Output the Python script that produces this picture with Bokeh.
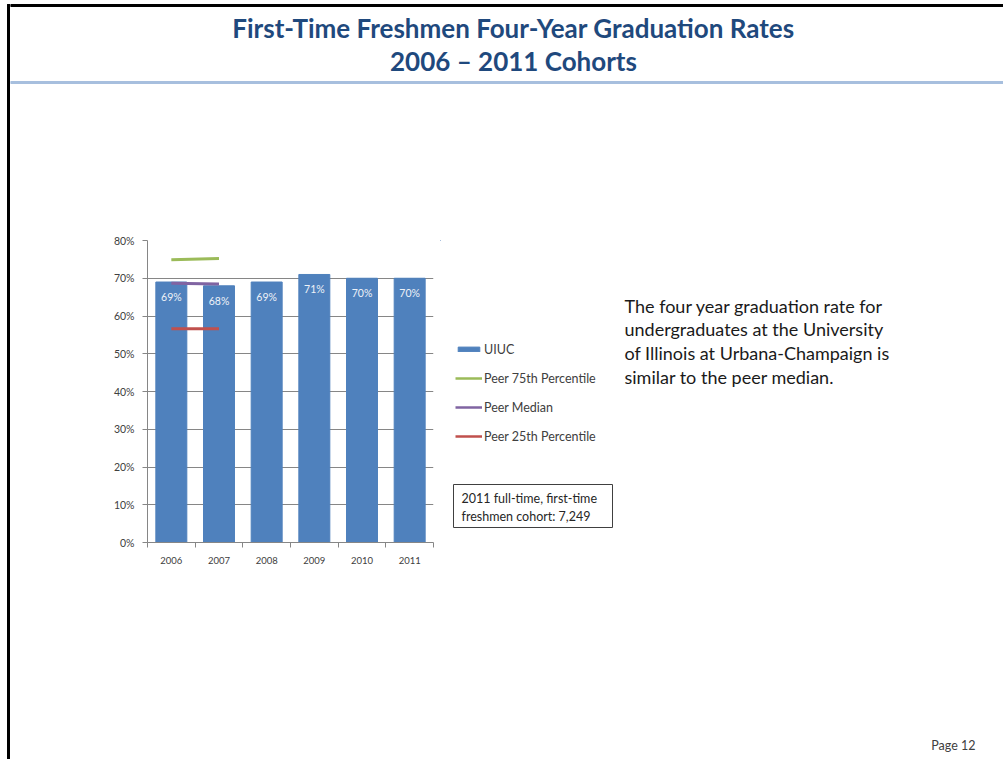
from bokeh.plotting import figure
from bokeh.layouts import row, column
from bokeh.models import (FactorRange, Range1d, LinearAxis, FixedTicker,
                          NumeralTickFormatter, Legend, LegendItem, Label,
                          ColumnDataSource)
from bokeh.core.properties import value
from bokeh.embed import file_html
from bokeh.resources import INLINE

# ---- data ----
years = ["2006", "2007", "2008", "2009", "2010", "2011"]
uiuc = [0.69, 0.68, 0.69, 0.71, 0.70, 0.70]
uiuc_labels = ["69%", "68%", "69%", "71%", "70%", "70%"]
peer_years = ["2006", "2007"]
peer_75 = [0.749, 0.752]
peer_median = [0.687, 0.685]
peer_25 = [0.566, 0.566]
y_ticks = [0, 0.1, 0.2, 0.3, 0.4, 0.5, 0.6, 0.7, 0.8]

title1 = "First-Time Freshmen Four-Year Graduation Rates"
title2 = "2006 \u2013 2011 Cohorts"
side_lines = ["The four year graduation rate for",
              "undergraduates at the University",
              "of Illinois at Urbana-Champaign is",
              "similar to the peer median."]
note_lines = ["2011 full-time, first-time", "freshmen cohort: 7,249"]
page_label = "Page 12"
legend_labels = ["UIUC", "Peer 75th Percentile", "Peer Median", "Peer 25th Percentile"]

FONT = "Lato"
BLUE = "#4f81bd"
GREEN = "#9bbb59"
PURPLE = "#8064a2"
RED = "#c0504d"
GRAY = "#868686"
TXT = "#404040"

W, H = 1003, 759
SW = 10            # left strip width
TOP_H = 200        # title band height
MID_H = 400        # chart band height
BOT_H = H - TOP_H - MID_H
CW = 440 - SW      # chart figure width
FL, FR, FT, FB = 147, 433, 240, 542   # chart frame edges in page pixels


def blank(width, height, x0, y0, top_border=0, bottom_border=0):
    """Figure whose frame maps data coords to page pixel coords."""
    f = figure(width=width, height=height, x_range=Range1d(x0, x0 + width),
               y_range=Range1d(y0 + height - bottom_border, y0 + top_border),
               output_backend="svg", toolbar_location=None, x_axis_location=None,
               y_axis_location=None, min_border=0, min_border_top=top_border,
               min_border_bottom=bottom_border)
    f.outline_line_color = None
    f.grid.visible = False
    f.background_fill_color = "white"
    f.border_fill_color = "white"
    return f


# ---- left strip (slide border) ----
strip = blank(SW, H, 0, 0)
strip.quad(left=7, right=9, top=4, bottom=H, color="black")
strip.quad(left=7, right=SW, top=4, bottom=6, color="black")

# ---- title band ----
top = blank(W - SW, TOP_H, SW, 0)
top.quad(left=SW, right=W, top=4, bottom=6, color="black")
top.quad(left=SW, right=W, top=81, bottom=83, color="#a7bfde")
for txt, yy in [(title1, 27), (title2, 60)]:
    top.add_layout(Label(x=513, y=yy, text=txt, text_align="center", text_baseline="middle",
                         text_font=FONT, text_font_style="bold", text_font_size="26px",
                         text_color="#1f497d"))

# ---- chart ----
c = figure(width=CW, height=MID_H, x_range=FactorRange(*years), y_range=Range1d(0, 0.8),
           output_backend="svg", toolbar_location=None, x_axis_location=None,
           min_border_left=FL - SW, min_border_right=SW + CW - FR,
           min_border_top=FT - TOP_H, min_border_bottom=TOP_H + MID_H - FB)
c.outline_line_color = None
c.background_fill_color = "white"
c.border_fill_color = "white"

ya = c.yaxis[0]
ya.ticker = FixedTicker(ticks=y_ticks)
ya.formatter = NumeralTickFormatter(format="0%")
ya.axis_line_color = GRAY
ya.major_tick_line_color = GRAY
ya.major_tick_out = 5
ya.major_tick_in = 0
ya.minor_tick_line_color = None
ya.major_label_standoff = 8
ya.major_label_text_font = FONT
ya.major_label_text_font_size = "10.5px"
ya.major_label_text_color = TXT
c.ygrid.ticker = FixedTicker(ticks=y_ticks)
c.ygrid.grid_line_color = GRAY
c.xgrid.grid_line_color = None

# x axis in synthetic category coordinates: labels at centres, tick marks at boundaries
n = len(years)
xa = LinearAxis(ticker=FixedTicker(ticks=[i + 0.5 for i in range(n)],
                                   minor_ticks=list(range(n + 1))),
                major_label_overrides={i + 0.5: y for i, y in enumerate(years)})
xa.axis_line_color = GRAY
xa.major_tick_line_color = None
xa.major_tick_out = 0
xa.major_tick_in = 0
xa.minor_tick_line_color = GRAY
xa.minor_tick_out = 5
xa.minor_tick_in = 0
xa.major_label_standoff = 9
xa.major_label_text_font = FONT
xa.major_label_text_font_size = "9.5px"
xa.major_label_text_color = TXT
c.add_layout(xa, "below")

src = ColumnDataSource(dict(x=years, y=uiuc, lab=uiuc_labels))
c.vbar(x="x", top="y", width=0.65, source=src, color=BLUE)
c.text(x="x", y="y", text="lab", source=src, text_align="center", text_baseline="middle",
       y_offset=15, text_font_size="10.5px", text_color="#eef2f8", text_font=value(FONT))
c.line(peer_years, peer_75, line_color=GREEN, line_width=3)
c.line(peer_years, peer_median, line_color=PURPLE, line_width=3)
c.line(peer_years, peer_25, line_color=RED, line_width=3)

# ---- right band: legend, note, commentary (frame aligned with chart frame) ----
r = blank(W - SW - CW, MID_H, SW + CW, TOP_H,
          top_border=FT - TOP_H, bottom_border=TOP_H + MID_H - FB)
# legend swatches: styled proxies of the chart series, placed outside this panel's range
proxy = ColumnDataSource(dict(i=[0.0, 0.0], v=[0.0, 0.0]))
lb = r.vbar(x="i", top="v", width=0.0, color=BLUE, source=proxy)
lg = r.line(x="i", y="v", line_color=GREEN, line_width=2.5, source=proxy)
lm = r.line(x="i", y="v", line_color=PURPLE, line_width=2.5, source=proxy)
lr = r.line(x="i", y="v", line_color=RED, line_width=2.5, source=proxy)
legend = Legend(items=[LegendItem(label=lab, renderers=[rr])
                       for lab, rr in zip(legend_labels, [lb, lg, lm, lr])],
                location=(15, 96))
legend.border_line_color = None
legend.background_fill_alpha = 0
legend.padding = 0
legend.margin = 0
legend.spacing = 9
legend.glyph_width = 27
legend.glyph_height = 6
legend.label_height = 20
legend.label_standoff = 2
legend.label_text_font = FONT
legend.label_text_font_size = "12.5px"
legend.label_text_color = TXT
r.add_layout(legend, "center")

r.quad(left=453, right=612, top=484, bottom=527, fill_color="white",
       line_color="#404040", line_width=1)
for i, line in enumerate(note_lines):
    r.add_layout(Label(x=461, y=498 + 18 * i, text=line, text_align="left",
                       text_baseline="middle", text_font=FONT, text_font_size="12.5px",
                       text_color="#262626"))
for i, line in enumerate(side_lines):
    r.add_layout(Label(x=624, y=305 + 23.7 * i, text=line, text_align="left",
                       text_baseline="alphabetic", text_font=FONT, text_font_size="18px",
                       text_color="#1a1a1a"))

# ---- bottom band ----
bot = blank(W - SW, BOT_H, SW, TOP_H + MID_H)
bot.add_layout(Label(x=975, y=745, text=page_label, text_align="right",
                     text_baseline="middle", text_font=FONT, text_font_size="12.5px",
                     text_color="#404040"))

page = row(strip, column(top, row(c, r), bot))
open("out.html", "w").write(file_html(page, INLINE))
